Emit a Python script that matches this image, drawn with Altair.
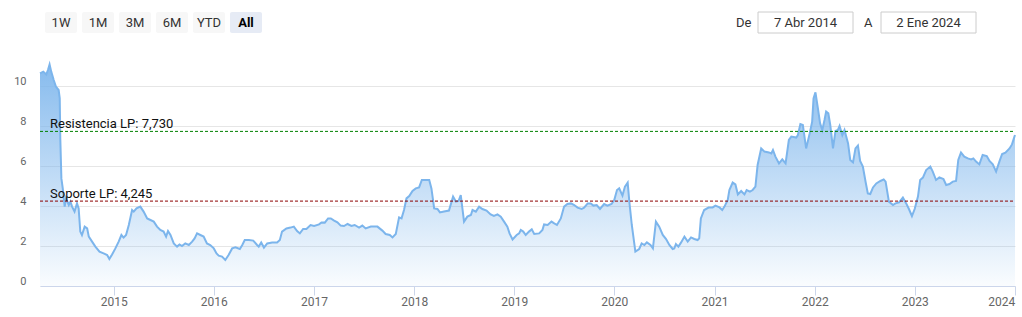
import altair as alt
import pandas as pd

# ---------------- data ----------------
dates = [
    "2014-04-07", "2014-04-19", "2014-04-30", "2014-05-06", "2014-05-12", "2014-05-18", "2014-05-27",
    "2014-06-04", "2014-06-14", "2014-06-18", "2014-06-20", "2014-06-24", "2014-06-29", "2014-07-06",
    "2014-07-11", "2014-07-21", "2014-07-27", "2014-08-02", "2014-08-11", "2014-08-20", "2014-08-26",
    "2014-09-01", "2014-09-07", "2014-09-17", "2014-09-26", "2014-10-02", "2014-10-14", "2014-10-26",
    "2014-11-10", "2014-11-25", "2014-12-08", "2014-12-16", "2014-12-26",
    "2015-01-07", "2015-01-19", "2015-01-29", "2015-02-06", "2015-02-15", "2015-02-25", "2015-03-09",
    "2015-03-15", "2015-03-25", "2015-04-08", "2015-04-20", "2015-05-03", "2015-05-15", "2015-05-27",
    "2015-06-08", "2015-06-20", "2015-07-02", "2015-07-11", "2015-07-18", "2015-07-27", "2015-08-08",
    "2015-08-20", "2015-08-29", "2015-09-07", "2015-09-19", "2015-10-02", "2015-10-14", "2015-10-23",
    "2015-11-01", "2015-11-13", "2015-11-25", "2015-12-07", "2015-12-19",
    "2016-01-01", "2016-01-11", "2016-01-19", "2016-01-31", "2016-02-12", "2016-02-24", "2016-03-08",
    "2016-03-20", "2016-04-05", "2016-04-14", "2016-04-23", "2016-05-08", "2016-05-24", "2016-06-07",
    "2016-06-13", "2016-06-22", "2016-07-02", "2016-07-14", "2016-08-01", "2016-08-19", "2016-08-29",
    "2016-09-06", "2016-09-22", "2016-10-07", "2016-10-19", "2016-10-31", "2016-11-10", "2016-11-22",
    "2016-12-04", "2016-12-19",
    "2017-01-01", "2017-01-19", "2017-01-28", "2017-02-09", "2017-02-21", "2017-03-03", "2017-03-15",
    "2017-03-27", "2017-04-08", "2017-04-20", "2017-05-03", "2017-05-17", "2017-05-29", "2017-06-14",
    "2017-06-26", "2017-07-08", "2017-07-27", "2017-08-20", "2017-09-07", "2017-09-19", "2017-10-04",
    "2017-10-14", "2017-10-26", "2017-11-07", "2017-11-16", "2017-11-25", "2017-12-04", "2017-12-14",
    "2017-12-26",
    "2018-01-07", "2018-01-19", "2018-01-29", "2018-02-10", "2018-02-25", "2018-03-05", "2018-03-15",
    "2018-03-27", "2018-04-05", "2018-04-20", "2018-05-08", "2018-05-23", "2018-06-02", "2018-06-12",
    "2018-06-20", "2018-07-02", "2018-07-14", "2018-07-27", "2018-08-02", "2018-08-14", "2018-08-26",
    "2018-09-07", "2018-09-22", "2018-10-07", "2018-10-19", "2018-11-01", "2018-11-13", "2018-11-25",
    "2018-12-07", "2018-12-15", "2018-12-26",
    "2019-01-10", "2019-01-19", "2019-01-25", "2019-02-03", "2019-02-12", "2019-02-24", "2019-03-06",
    "2019-03-15", "2019-04-02", "2019-04-14", "2019-04-20", "2019-05-03", "2019-05-17", "2019-05-27",
    "2019-06-06", "2019-06-20", "2019-07-02", "2019-07-14", "2019-07-27", "2019-08-08", "2019-08-20",
    "2019-09-04", "2019-09-13", "2019-09-26", "2019-10-07", "2019-10-17", "2019-10-29", "2019-11-10",
    "2019-11-25", "2019-12-07", "2019-12-22",
    "2020-01-01", "2020-01-11", "2020-01-19", "2020-01-31", "2020-02-09", "2020-02-19", "2020-02-25",
    "2020-03-05", "2020-03-18", "2020-04-01", "2020-04-10", "2020-04-20", "2020-04-29", "2020-05-12",
    "2020-05-21", "2020-06-01", "2020-06-13", "2020-06-26", "2020-07-08", "2020-07-20", "2020-08-01",
    "2020-08-07", "2020-08-13", "2020-08-22", "2020-09-01", "2020-09-13", "2020-09-25", "2020-10-07",
    "2020-10-19", "2020-10-31", "2020-11-06", "2020-11-12", "2020-11-24", "2020-12-10", "2020-12-25",
    "2021-01-04", "2021-01-19", "2021-01-29", "2021-02-06", "2021-02-18", "2021-02-24", "2021-03-08",
    "2021-03-18", "2021-03-27", "2021-04-08", "2021-04-20", "2021-04-28", "2021-05-10", "2021-05-20",
    "2021-05-30", "2021-06-07", "2021-06-20", "2021-07-02", "2021-07-18", "2021-07-27", "2021-08-02",
    "2021-08-11", "2021-08-24", "2021-09-05", "2021-09-17", "2021-09-29", "2021-10-08", "2021-10-26",
    "2021-11-01", "2021-11-10", "2021-11-19", "2021-12-01", "2021-12-14", "2021-12-23", "2021-12-28",
    "2022-01-04", "2022-01-13", "2022-01-21", "2022-01-29", "2022-02-06", "2022-02-12", "2022-02-20",
    "2022-02-27", "2022-03-09", "2022-03-18", "2022-03-27", "2022-04-02", "2022-04-12", "2022-04-20",
    "2022-05-03", "2022-05-11", "2022-05-21", "2022-05-30", "2022-06-08", "2022-06-16", "2022-06-26",
    "2022-07-06", "2022-07-14", "2022-07-23", "2022-08-02", "2022-08-14", "2022-08-29", "2022-09-10",
    "2022-09-17", "2022-09-29", "2022-10-14", "2022-10-23", "2022-11-05", "2022-11-19", "2022-12-01",
    "2022-12-11", "2022-12-22",
    "2023-01-01", "2023-01-13", "2023-01-21", "2023-01-31", "2023-02-12", "2023-02-27", "2023-03-08",
    "2023-03-20", "2023-04-01", "2023-04-16", "2023-04-26", "2023-05-08", "2023-05-20", "2023-06-01",
    "2023-06-09", "2023-06-19", "2023-07-01", "2023-07-14", "2023-07-26", "2023-08-03", "2023-08-13",
    "2023-08-25", "2023-09-06", "2023-09-21", "2023-10-01", "2023-10-13", "2023-10-25", "2023-11-06",
    "2023-11-16", "2023-11-28", "2023-12-13", "2023-12-22", "2023-12-31", "2024-01-02",
]

values = [
    10.63, 10.72, 10.58, 10.80, 11.08, 10.72, 10.30,
    9.97, 9.80, 9.38, 7.40, 5.38, 4.88, 3.97,
    4.38, 4.05, 4.22, 3.97, 3.72, 4.13, 3.88,
    2.72, 2.55, 2.97, 2.88, 2.47, 2.22, 1.97,
    1.72, 1.63, 1.55, 1.35, 1.58,
    1.88, 2.22, 2.55, 2.42, 2.55, 3.05, 3.80,
    3.72, 3.88, 3.97, 3.72, 3.38, 3.30, 3.22,
    2.97, 2.80, 2.72, 2.47, 2.75, 2.55, 2.13,
    1.97, 2.08, 2.00, 2.13, 2.05, 2.22, 2.38,
    2.63, 2.55, 2.47, 2.13, 2.05,
    1.88, 1.63, 1.52, 1.47, 1.30, 1.55, 1.88,
    1.93, 1.85, 2.05, 2.30, 2.30, 2.27, 2.05,
    1.97, 2.17, 1.92, 2.13, 2.18, 2.18, 2.30,
    2.72, 2.88, 2.92, 2.97, 2.75, 2.63, 2.85,
    2.85, 3.05,
    3.00, 3.08, 3.18, 3.17, 3.38, 3.38, 3.27,
    3.18, 3.02, 3.00, 3.10, 3.00, 3.05, 2.92,
    3.02, 2.88, 2.97, 2.97, 2.77, 2.60, 2.55,
    2.43, 2.60, 3.43, 3.38, 3.80, 4.38, 4.50,
    4.75,
    4.88, 4.93, 5.30, 5.30, 5.30, 4.88, 3.88,
    3.85, 3.68, 3.72, 3.77, 4.47, 4.22, 4.25,
    4.55, 3.22, 3.47, 3.55, 3.80, 3.72, 3.97,
    3.85, 3.77, 3.58, 3.50, 3.58, 3.47, 3.22,
    2.97, 2.63, 2.33,
    2.55, 2.63, 2.80, 2.72, 2.55, 2.72, 2.83,
    2.60, 2.63, 2.80, 3.08, 3.05, 3.22, 3.13,
    3.05, 3.38, 3.97, 4.10, 4.13, 4.05, 3.92,
    3.85, 3.92, 4.13, 4.13, 4.02, 4.05, 3.85,
    4.10, 4.02, 4.10,
    4.30, 4.80, 4.88, 4.52, 4.97, 5.17, 4.22,
    3.05, 1.72, 1.85, 2.13, 2.05, 2.18, 2.05,
    1.88, 3.22, 2.97, 2.55, 2.35, 2.05, 1.85,
    1.88, 2.10, 1.97, 2.18, 2.47, 2.22, 2.43,
    2.35, 2.30, 2.38, 3.38, 3.80, 3.92, 3.93,
    4.02, 3.93, 3.80, 3.97, 4.30, 4.80, 5.17,
    5.08, 4.58, 4.75, 4.58, 4.80, 4.72, 4.80,
    4.97, 6.05, 6.88, 6.72, 6.68, 6.63, 6.80,
    6.47, 6.13, 6.33, 6.13, 7.30, 7.47, 7.42,
    7.55, 8.10, 8.05, 6.88, 7.63, 8.22, 9.38,
    9.68, 8.88, 8.13, 7.80, 8.30, 8.72, 8.63,
    8.05, 6.88, 7.75, 7.80, 8.00, 7.55, 7.80,
    7.13, 6.30, 6.18, 6.88, 7.02, 6.25, 5.97,
    5.20, 4.63, 4.60, 4.93, 5.13, 5.25, 5.33,
    5.22, 4.22, 4.05, 4.13, 4.18, 4.42, 4.13,
    3.85, 3.50,
    3.85, 4.47, 5.30, 5.42, 5.80, 5.97, 5.72,
    5.30, 5.43, 5.35, 5.05, 5.10, 5.22, 5.25,
    6.30, 6.67, 6.47, 6.38, 6.33, 6.38, 6.22,
    6.08, 6.55, 6.50, 6.25, 6.08, 5.72, 6.22,
    6.60, 6.67, 6.88, 7.08, 7.47, 7.55,
]

resistance_value = 7.73
support_value = 4.245
resistance_label = "Resistencia LP: 7,730"
support_label = "Soporte LP: 4,245"

year_ticks = [2015, 2016, 2017, 2018, 2019, 2020, 2021, 2022, 2023, 2024]
y_ticks = [0, 2, 4, 6, 8, 10]
buttons = ["1W", "1M", "3M", "6M", "YTD", "All"]
range_words = ["De", "A"]
range_dates = ["7 Abr 2014", "2 Ene 2024"]

# ---------------- chart ----------------
FONT = "Roboto"
df = pd.DataFrame({"date": dates, "value": values})

x_enc = alt.X(
    "date:T",
    title=None,
    scale=alt.Scale(
        domain=[alt.DateTime(year=2014, month=4, date=7, utc=True),
                alt.DateTime(year=2024, month=1, date=2, utc=True)],
        nice=False,
    ),
    axis=alt.Axis(
        values=[alt.DateTime(year=yr, month=1, date=1, utc=True) for yr in year_ticks],
        format="%Y", grid=False, domainColor="#ccd6eb", tickColor="#ccd6eb",
        tickSize=9, labelPadding=1, labelColor="#666666", labelFontSize=12,
        labelFont=FONT, labelOverlap=False, labelFlush=False, labelBound=False,
        labelAlign=alt.ExprRef(expr="utcyear(datum.value) >= 2024 ? 'right' : 'center'"),
    ),
)
y_enc = alt.Y(
    "value:Q",
    title=None,
    scale=alt.Scale(domain=[0, 12], nice=False, zero=True),
    axis=alt.Axis(
        values=y_ticks, grid=True, gridColor="#e6e6e6", domain=False, ticks=False,
        tickSize=0, labelPadding=14, labelColor="#666666", labelFontSize=11,
        labelFont=FONT, labelBaseline="bottom",
    ),
)

gradient = alt.Gradient(
    gradient="linear",
    stops=[
        alt.GradientStop(color="rgba(124,181,236,0.92)", offset=0),
        alt.GradientStop(color="rgba(124,181,236,0.04)", offset=1),
    ],
    x1=1, x2=1, y1=0, y2=1,
)

base = alt.Chart(df)
area = base.mark_area(color=gradient, interpolate="linear").encode(x=x_enc, y=y_enc)
line = base.mark_line(color="#7cb5ec", strokeWidth=2, interpolate="linear").encode(
    x=alt.X("date:T"), y=alt.Y("value:Q"))

res_df = pd.DataFrame({"v": [resistance_value], "label": [resistance_label]})
sup_df = pd.DataFrame({"v": [support_value], "label": [support_label]})

res_rule = alt.Chart(res_df).mark_rule(color="#008000", strokeWidth=1, strokeDash=[3, 2]).encode(
    y="v:Q", x=alt.value(0), x2=alt.value(975))
sup_rule = alt.Chart(sup_df).mark_rule(color="#8b0000", strokeWidth=1, strokeDash=[3, 2]).encode(
    y="v:Q", x=alt.value(0), x2=alt.value(975))
res_text = alt.Chart(res_df).mark_text(
    align="left", baseline="alphabetic", dy=-3, font=FONT, fontSize=13, color="#111111"
).encode(y="v:Q", x=alt.value(10), text="label:N")
sup_text = alt.Chart(sup_df).mark_text(
    align="left", baseline="alphabetic", dy=-3, font=FONT, fontSize=13, color="#111111"
).encode(y="v:Q", x=alt.value(10), text="label:N")

layers = [area, line, res_rule, sup_rule, res_text, sup_text]

# range selector buttons (above the plot area)
for i, b in enumerate(buttons):
    x0 = 5 + i * 37
    selected = (b == "All")
    bdf = pd.DataFrame({"label": [b]})
    layers.append(
        alt.Chart(bdf).mark_rect(
            fill="#e6ebf5" if selected else "#f7f7f7", cornerRadius=2
        ).encode(x=alt.value(x0), x2=alt.value(x0 + 32), y=alt.value(-34), y2=alt.value(-13))
    )
    layers.append(
        alt.Chart(bdf).mark_text(
            font=FONT, fontSize=13, color="#000000" if selected else "#333333",
            fontWeight="bold" if selected else "normal", align="center", baseline="middle"
        ).encode(x=alt.value(x0 + 16), y=alt.value(-23.5), text="label:N")
    )

# date range inputs
word_x = [696, 824]
box_x = [718, 841]
for i in range(2):
    wdf = pd.DataFrame({"label": [range_words[i]]})
    ddf = pd.DataFrame({"label": [range_dates[i]]})
    layers.append(
        alt.Chart(wdf).mark_text(font=FONT, fontSize=13, color="#333333", align="left",
                                 baseline="middle").encode(
            x=alt.value(word_x[i]), y=alt.value(-23.5), text="label:N")
    )
    layers.append(
        alt.Chart(ddf).mark_rect(fill="#ffffff", stroke="#cccccc", strokeWidth=1).encode(
            x=alt.value(box_x[i]), x2=alt.value(box_x[i] + 95), y=alt.value(-34), y2=alt.value(-13))
    )
    layers.append(
        alt.Chart(ddf).mark_text(font=FONT, fontSize=13, color="#333333", align="center",
                                 baseline="middle").encode(
            x=alt.value(box_x[i] + 47.5), y=alt.value(-23.5), text="label:N")
    )

chart = alt.layer(*layers).properties(
    width=975,
    height=240,
    padding={"left": 40, "top": 46, "right": 7, "bottom": 31},
    autosize=alt.AutoSizeParams(type="none"),
    background="#ffffff",
).configure_view(stroke=None)

chart.save("out.html", embed_options={"renderer": "svg", "actions": False})
